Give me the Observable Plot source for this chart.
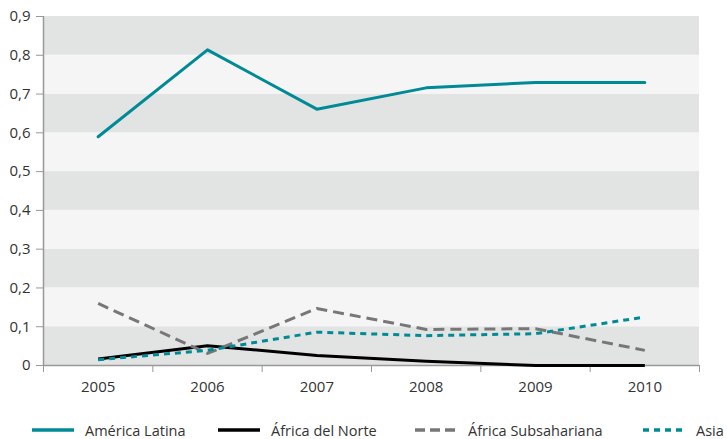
<!DOCTYPE html>
<html>
<head>
<meta charset="utf-8">
<script src="https://cdn.jsdelivr.net/npm/d3@7"></script>
<script src="https://cdn.jsdelivr.net/npm/@observablehq/plot@0.6"></script>
<style>
  body { margin: 0; background: #fff; font-family: "Open Sans", "Noto Sans", sans-serif; }
  #chart svg { display: block; }
  .legend { position: relative; height: 22px; margin-top: 9px; font-size: 14.5px; color: #333; white-space: nowrap; }
  .legend .item { position: absolute; top: 0; display: inline-flex; align-items: center; height: 22px; }
  .legend svg { margin-right: 11px; }
</style>
</head>
<body>
<div id="chart"></div>
<div class="legend" id="legend"></div>
<script>
// Years on the horizontal axis
const years = [2005, 2006, 2007, 2008, 2009, 2010];

// Values per region
const americaLatina = [0.590, 0.814, 0.661, 0.716, 0.730, 0.730];
const africaNorte = [0.017, 0.051, 0.026, 0.011, 0.000, 0.000];
const africaSubsahariana = [0.160, 0.031, 0.147, 0.093, 0.095, 0.039];
const asia = [0.015, 0.039, 0.086, 0.077, 0.082, 0.125];

// Series names and styles
const seriesNames = ["América Latina", "África del Norte", "África Subsahariana", "Asia"];
const seriesValues = [americaLatina, africaNorte, africaSubsahariana, asia];
const seriesStroke = ["#008a96", "#000000", "#777777", "#008a96"];
const seriesDash = [null, null, "11,6", "6,5"];

// Y tick values
const yTicks = [0, 0.1, 0.2, 0.3, 0.4, 0.5, 0.6, 0.7, 0.8, 0.9];

// Alternating horizontal bands between y ticks
const bands = yTicks.slice(0, -1).map((v, i) => ({y1: v, y2: yTicks[i + 1], even: i % 2 === 0}));

// Boundaries between year columns (for axis tick marks)
const xEdges = [...years.map(y => y - 0.5), years[years.length - 1] + 0.5];

const rows = seriesNames.flatMap((name, s) =>
  years.map((year, i) => ({series: name, year, value: seriesValues[s][i]}))
);

const fmt = d => d === 0 ? "0" : d.toFixed(1).replace(".", ",");

const chart = Plot.plot({
  width: 727,
  height: 410,
  marginLeft: 43,
  marginRight: 28,
  marginTop: 16,
  marginBottom: 45,
  style: {fontFamily: "'Open Sans', 'Noto Sans', sans-serif", fontSize: "15px", color: "#333"},
  x: {domain: [xEdges[0], xEdges[xEdges.length - 1]]},
  y: {domain: [0, 0.9]},
  marks: [
    Plot.rect(bands, {y1: "y1", y2: "y2", fill: d => d.even ? "#e2e4e3" : "#f5f5f5"}),
    Plot.axisY({ticks: yTicks, tickFormat: fmt, tickSize: 7, tickPadding: 6, stroke: "#999", strokeOpacity: 1, label: null}),
    Plot.axisX({ticks: xEdges, tickFormat: () => "", tickSize: 7, stroke: "#999", strokeOpacity: 1, label: null}),
    Plot.axisX({ticks: years, tickFormat: d => String(d), tickSize: 0, tickPadding: 16, label: null}),
    Plot.ruleX([xEdges[0]], {stroke: "#999", strokeWidth: 1.5}),
    Plot.ruleY([0], {stroke: "#999", strokeWidth: 1.5}),
    ...seriesNames.map((name, s) =>
      Plot.line(rows.filter(d => d.series === name), {
        x: "year", y: "value",
        stroke: seriesStroke[s], strokeWidth: 3,
        strokeDasharray: seriesDash[s],
        strokeLinejoin: "round",
        strokeLinecap: s === 0 ? "round" : "butt"
      })
    )
  ]
});
document.getElementById("chart").append(chart);

// Legend below the chart, one entry per series
const legendLeft = [32, 218, 415, 643];
const legend = d3.select("#legend");
seriesNames.forEach((name, s) => {
  const item = legend.append("span").attr("class", "item").style("left", legendLeft[s] + "px");
  const sw = item.append("svg").attr("width", 42).attr("height", 6);
  sw.append("line")
    .attr("x1", 0).attr("x2", 42).attr("y1", 3).attr("y2", 3)
    .attr("stroke", seriesStroke[s]).attr("stroke-width", 3.5)
    .attr("stroke-dasharray", seriesDash[s] ? (s === 2 ? "10,5" : "6,5") : null);
  item.append("span").text(name);
});
</script>
</body>
</html>
